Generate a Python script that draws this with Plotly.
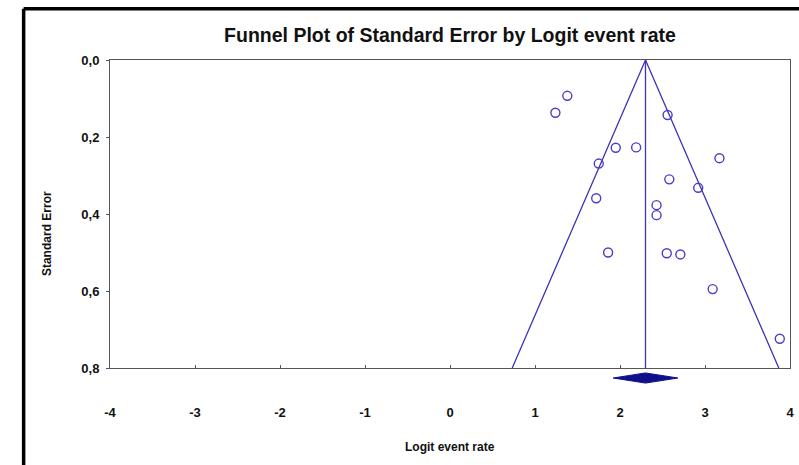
import plotly.graph_objects as go

# Study data
logit_rate = [1.38, 1.24, 2.56, 1.95, 2.19, 1.75, 3.17, 2.58, 2.92, 1.72,
              2.43, 2.43, 1.86, 2.55, 2.71, 3.09, 3.88]
std_error = [0.093, 0.137, 0.143, 0.228, 0.227, 0.269, 0.255, 0.310, 0.332, 0.359,
             0.377, 0.403, 0.500, 0.502, 0.505, 0.595, 0.724]

pooled = 2.30
ci_low = 1.92
ci_high = 2.68
se_max = 0.8
z = 1.96

x_ticks = [-4, -3, -2, -1, 0, 1, 2, 3, 4]
x_tick_text = ["-4", "-3", "-2", "-1", "0", "1", "2", "3", "4"]
y_ticks = [0.0, 0.2, 0.4, 0.6, 0.8]
y_tick_text = ["0,0", "0,2", "0,4", "0,6", "0,8"]

line_col = "#3b34b8"
pt_col = "#4a3fc4"
diamond_col = "#10108c"
font_fam = "Liberation Sans, Arial, sans-serif"

fig = go.Figure()

# funnel lines
fig.add_trace(go.Scatter(
    x=[pooled - z * se_max, pooled, pooled + z * se_max],
    y=[se_max, 0, se_max],
    mode="lines", line=dict(color=line_col, width=1.3),
    hoverinfo="skip", showlegend=False))
fig.add_trace(go.Scatter(
    x=[pooled, pooled], y=[0, se_max],
    mode="lines", line=dict(color=line_col, width=1.3),
    hoverinfo="skip", showlegend=False))

# studies
fig.add_trace(go.Scatter(
    x=logit_rate, y=std_error, mode="markers",
    marker=dict(symbol="circle-open", size=9, color=pt_col,
                line=dict(width=1.4, color=pt_col)),
    showlegend=False, cliponaxis=False))

# summary diamond below the axis
yc, hh = -0.0325, 0.0165
path = (f"M {ci_low} {yc} L {pooled} {yc + hh} L {ci_high} {yc} "
        f"L {pooled} {yc - hh} Z")
fig.add_shape(type="path", path=path, xref="x", yref="paper",
              fillcolor=diamond_col, line=dict(color=diamond_col, width=1))

# outer black frame (left and top edges visible)
fig.add_shape(type="line", xref="paper", yref="paper",
              x0=-0.127, x1=-0.127, y0=-0.5, y1=1.166,
              line=dict(color="black", width=3.5))
fig.add_shape(type="line", xref="paper", yref="paper",
              x0=-0.127, x1=1.1, y0=1.166, y1=1.166,
              line=dict(color="black", width=3.5))

# y axis title
fig.add_annotation(text="<b>Standard Error</b>", xref="paper", yref="paper",
                   x=-0.0926, y=0.435, xanchor="center", yanchor="middle",
                   textangle=-90, showarrow=False,
                   font=dict(size=12, color="#111", family=font_fam))
# x axis title
fig.add_annotation(text="<b>Logit event rate</b>", xref="paper", yref="paper",
                   x=0.5, y=(368 - 447) / 308, xanchor="center", yanchor="middle",
                   showarrow=False,
                   font=dict(size=12, color="#111", family=font_fam))

fig.update_layout(
    template="none",
    width=799, height=465,
    margin=dict(l=110, r=9, t=60, b=97, autoexpand=False),
    paper_bgcolor="white", plot_bgcolor="white",
    title=dict(text="<b>Funnel Plot of Standard Error by Logit event rate</b>",
               x=0.5, xref="paper", y=1 - 35 / 465, yanchor="middle",
               font=dict(size=19.5, color="#111", family=font_fam)),
    font=dict(family=font_fam, color="#111"),
)

fig.update_xaxes(range=[-4, 4], tickvals=x_ticks,
                 ticktext=["<b>%s</b>" % t for t in x_tick_text],
                 showgrid=False, zeroline=False, showline=True, mirror=True,
                 automargin=False,
                 linecolor="#555", linewidth=1, ticks="inside", ticklen=3,
                 tickcolor="#555", ticklabelstandoff=32,
                 tickfont=dict(size=13, family=font_fam, color="#111"))
fig.update_yaxes(range=[0.8, 0], tickvals=y_ticks,
                 ticktext=["<b>%s</b>" % t for t in y_tick_text],
                 showgrid=False, zeroline=False, showline=True, mirror=True,
                 automargin=False,
                 linecolor="#555", linewidth=1, ticks="outside", ticklen=3,
                 tickcolor="#555", ticklabelstandoff=4,
                 tickfont=dict(size=13, family=font_fam, color="#111"))

fig.write_html("out.html", config={"displayModeBar": False},
               post_script="document.body.style.margin='0';document.body.style.overflow='hidden';")
